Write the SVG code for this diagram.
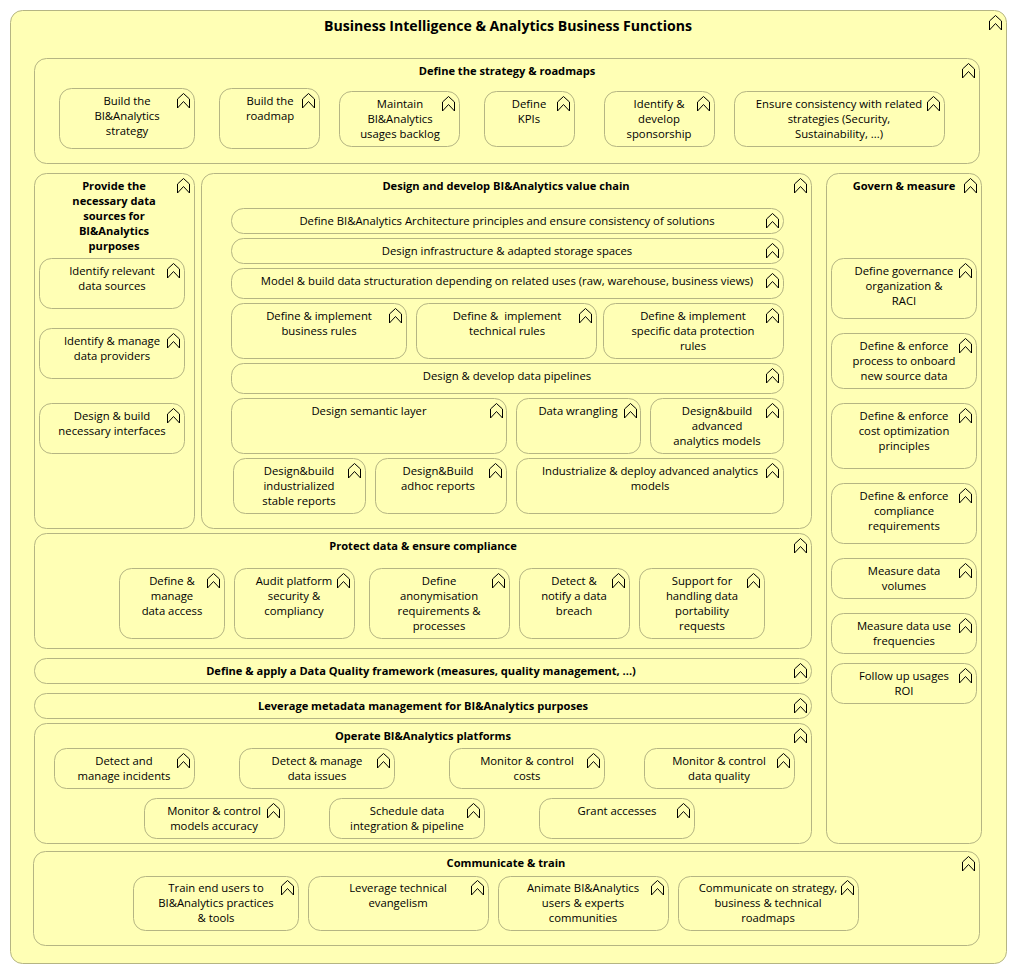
<svg xmlns="http://www.w3.org/2000/svg" width="1017" height="974" viewBox="0 0 1017 974">
<style>
rect{fill:#ffffb5;stroke:#b5b583;stroke-width:1}
text{font-family:"Open Sans","Liberation Sans",sans-serif;font-size:11.3px;fill:#000;text-anchor:middle}
.b text{font-weight:700;font-size:11.1px}
.ic{fill:none;stroke:#000;stroke-width:1}
</style>
<defs><g id="i"><path class="ic" d="M0.5 6L6.5 0.5L12.5 6V15L6.5 8.5L0.5 15Z"/></g></defs>
<rect width="1017" height="974" style="fill:#fff;stroke:none"/>
<g id="root" class="b"><rect x="10.5" y="10.5" width="996" height="953" rx="12"/><text x="508" y="31" style="font-size:14.1px">Business Intelligence &amp; Analytics Business Functions</text><use href="#i" x="989" y="15"/></g>
<g id="strategy" class="b"><rect x="34.5" y="58.5" width="945" height="105" rx="12"/><text x="507" y="75">Define the strategy &amp; roadmaps</text><use href="#i" x="962" y="63"/></g>
<g id="n1"><rect x="59.5" y="88.5" width="135" height="60" rx="12"/><text x="127" y="105">Build the</text><text x="127" y="120">BI&amp;Analytics</text><text x="127" y="135">strategy</text><use href="#i" x="177" y="93"/></g>
<g id="n2"><rect x="219.5" y="88.5" width="100" height="60" rx="12"/><text x="270" y="105">Build the</text><text x="270" y="120">roadmap</text><use href="#i" x="302" y="93"/></g>
<g id="n3"><rect x="339.5" y="91.5" width="120" height="55" rx="12"/><text x="400" y="108">Maintain</text><text x="400" y="123">BI&amp;Analytics</text><text x="400" y="138">usages backlog</text><use href="#i" x="442" y="96"/></g>
<g id="n4"><rect x="484.5" y="91.5" width="90" height="55" rx="12"/><text x="529" y="108">Define</text><text x="529" y="123">KPIs</text><use href="#i" x="557" y="96"/></g>
<g id="n5"><rect x="604.5" y="91.5" width="110" height="55" rx="12"/><text x="659" y="108">Identify &amp;</text><text x="659" y="123">develop</text><text x="659" y="138">sponsorship</text><use href="#i" x="697" y="96"/></g>
<g id="n6"><rect x="734.5" y="91.5" width="210" height="55" rx="12"/><text x="839" y="108">Ensure consistency with related</text><text x="839" y="123">strategies (Security,</text><text x="839" y="138">Sustainability, ...)</text><use href="#i" x="927" y="96"/></g>
<g id="provide" class="b"><rect x="34.5" y="173.5" width="160" height="355" rx="12"/><text x="114" y="190">Provide the</text><text x="114" y="205">necessary data</text><text x="114" y="220">sources for</text><text x="114" y="235">BI&amp;Analytics</text><text x="114" y="250">purposes</text><use href="#i" x="177" y="178"/></g>
<g id="n7"><rect x="39.5" y="258.5" width="145" height="50" rx="12"/><text x="112" y="275">Identify relevant</text><text x="112" y="290">data sources</text><use href="#i" x="167" y="263"/></g>
<g id="n8"><rect x="39.5" y="328.5" width="145" height="50" rx="12"/><text x="112" y="345">Identify &amp; manage</text><text x="112" y="360">data providers</text><use href="#i" x="167" y="333"/></g>
<g id="n9"><rect x="39.5" y="403.5" width="145" height="50" rx="12"/><text x="112" y="420">Design &amp; build</text><text x="112" y="435">necessary interfaces</text><use href="#i" x="167" y="408"/></g>
<g id="chain" class="b"><rect x="201.5" y="173.5" width="610" height="355" rx="12"/><text x="506" y="190">Design and develop BI&amp;Analytics value chain</text><use href="#i" x="794" y="178"/></g>
<g id="n10"><rect x="231.5" y="208.5" width="552" height="25" rx="12"/><text x="507" y="225">Define BI&amp;Analytics Architecture principles and ensure consistency of solutions</text><use href="#i" x="766" y="213"/></g>
<g id="n11"><rect x="231.5" y="238.5" width="552" height="25" rx="12"/><text x="507" y="255">Design infrastructure &amp; adapted storage spaces</text><use href="#i" x="766" y="243"/></g>
<g id="n12"><rect x="231.5" y="268.5" width="552" height="30" rx="12"/><text x="507" y="285">Model &amp; build data structuration depending on related uses (raw, warehouse, business views)</text><use href="#i" x="766" y="273"/></g>
<g id="n13"><rect x="231.5" y="303.5" width="175" height="55" rx="12"/><text x="319" y="320">Define &amp; implement</text><text x="319" y="335">business rules</text><use href="#i" x="389" y="308"/></g>
<g id="n14"><rect x="416.5" y="303.5" width="180" height="55" rx="12"/><text x="507" y="320" xml:space="preserve">Define &amp;  implement</text><text x="507" y="335">technical rules</text><use href="#i" x="579" y="308"/></g>
<g id="n15"><rect x="603.5" y="303.5" width="180" height="55" rx="12"/><text x="693" y="320">Define &amp; implement</text><text x="693" y="335">specific data protection</text><text x="693" y="350">rules</text><use href="#i" x="766" y="308"/></g>
<g id="n16"><rect x="231.5" y="363.5" width="552" height="30" rx="12"/><text x="507" y="380">Design &amp; develop data pipelines</text><use href="#i" x="766" y="368"/></g>
<g id="n17"><rect x="231.5" y="398.5" width="275" height="55" rx="12"/><text x="369" y="415">Design semantic layer</text><use href="#i" x="490" y="403"/></g>
<g id="n18"><rect x="516.5" y="398.5" width="124" height="55" rx="12"/><text x="578" y="415">Data wrangling</text><use href="#i" x="624" y="403"/></g>
<g id="n19"><rect x="650.5" y="398.5" width="133" height="55" rx="12"/><text x="717" y="415">Design&amp;build</text><text x="717" y="430">advanced</text><text x="717" y="445">analytics models</text><use href="#i" x="766" y="403"/></g>
<g id="n20"><rect x="233.5" y="458.5" width="132" height="55" rx="12"/><text x="299" y="475">Design&amp;build</text><text x="299" y="490">industrialized</text><text x="299" y="505">stable reports</text><use href="#i" x="348" y="463"/></g>
<g id="n21"><rect x="375.5" y="458.5" width="131" height="55" rx="12"/><text x="438" y="475">Design&amp;Build</text><text x="438" y="490">adhoc reports</text><use href="#i" x="489" y="463"/></g>
<g id="n22"><rect x="516.5" y="458.5" width="267" height="55" rx="12"/><text x="650" y="475">Industrialize &amp; deploy advanced analytics</text><text x="650" y="490">models</text><use href="#i" x="766" y="463"/></g>
<g id="govern" class="b"><rect x="826.5" y="173.5" width="155" height="670" rx="12"/><text x="904" y="190">Govern &amp; measure</text><use href="#i" x="964" y="178"/></g>
<g id="n23"><rect x="831.5" y="258.5" width="145" height="60" rx="12"/><text x="904" y="275">Define governance</text><text x="904" y="290">organization &amp;</text><text x="904" y="305">RACI</text><use href="#i" x="959" y="263"/></g>
<g id="n24"><rect x="831.5" y="333.5" width="145" height="55" rx="12"/><text x="904" y="350">Define &amp; enforce</text><text x="904" y="365">process to onboard</text><text x="904" y="380">new source data</text><use href="#i" x="959" y="338"/></g>
<g id="n25"><rect x="831.5" y="403.5" width="145" height="65" rx="12"/><text x="904" y="420">Define &amp; enforce</text><text x="904" y="435">cost optimization</text><text x="904" y="450">principles</text><use href="#i" x="959" y="408"/></g>
<g id="n26"><rect x="831.5" y="483.5" width="145" height="60" rx="12"/><text x="904" y="500">Define &amp; enforce</text><text x="904" y="515">compliance</text><text x="904" y="530">requirements</text><use href="#i" x="959" y="488"/></g>
<g id="n27"><rect x="831.5" y="558.5" width="145" height="40" rx="12"/><text x="904" y="575">Measure data</text><text x="904" y="590">volumes</text><use href="#i" x="959" y="563"/></g>
<g id="n28"><rect x="831.5" y="613.5" width="145" height="40" rx="12"/><text x="904" y="630">Measure data use</text><text x="904" y="645">frequencies</text><use href="#i" x="959" y="618"/></g>
<g id="n29"><rect x="831.5" y="663.5" width="145" height="40" rx="12"/><text x="904" y="680">Follow up usages</text><text x="904" y="695">ROI</text><use href="#i" x="959" y="668"/></g>
<g id="protect" class="b"><rect x="34.5" y="533.5" width="777" height="115" rx="12"/><text x="423" y="550">Protect data &amp; ensure compliance</text><use href="#i" x="794" y="538"/></g>
<g id="n30"><rect x="119.5" y="568.5" width="105" height="70" rx="12"/><text x="172" y="585">Define &amp;</text><text x="172" y="600">manage</text><text x="172" y="615">data access</text><use href="#i" x="207" y="573"/></g>
<g id="n31"><rect x="234.5" y="568.5" width="120" height="70" rx="12"/><text x="294" y="585">Audit platform</text><text x="294" y="600">security &amp;</text><text x="294" y="615">compliancy</text><use href="#i" x="337" y="573"/></g>
<g id="n32"><rect x="369.5" y="568.5" width="140" height="70" rx="12"/><text x="439" y="585">Define</text><text x="439" y="600">anonymisation</text><text x="439" y="615">requirements &amp;</text><text x="439" y="630">processes</text><use href="#i" x="492" y="573"/></g>
<g id="n33"><rect x="519.5" y="568.5" width="110" height="70" rx="12"/><text x="574" y="585">Detect &amp;</text><text x="574" y="600">notify a data</text><text x="574" y="615">breach</text><use href="#i" x="612" y="573"/></g>
<g id="n34"><rect x="639.5" y="568.5" width="125" height="70" rx="12"/><text x="702" y="585">Support for</text><text x="702" y="600">handling data</text><text x="702" y="615">portability</text><text x="702" y="630">requests</text><use href="#i" x="747" y="573"/></g>
<g id="dq" class="b"><rect x="34.5" y="658.5" width="777" height="25" rx="12"/><text x="421" y="675">Define &amp; apply a Data Quality framework (measures, quality management, ...)</text><use href="#i" x="794" y="663"/></g>
<g id="meta" class="b"><rect x="34.5" y="693.5" width="777" height="25" rx="12"/><text x="423" y="710">Leverage metadata management for BI&amp;Analytics purposes</text><use href="#i" x="794" y="698"/></g>
<g id="operate" class="b"><rect x="34.5" y="723.5" width="777" height="120" rx="12"/><text x="423" y="740">Operate BI&amp;Analytics platforms</text><use href="#i" x="794" y="728"/></g>
<g id="n35"><rect x="54.5" y="748.5" width="140" height="40" rx="12"/><text x="124" y="765">Detect and</text><text x="124" y="780">manage incidents</text><use href="#i" x="177" y="753"/></g>
<g id="n36"><rect x="239.5" y="748.5" width="155" height="40" rx="12"/><text x="317" y="765">Detect &amp; manage</text><text x="317" y="780">data issues</text><use href="#i" x="377" y="753"/></g>
<g id="n37"><rect x="449.5" y="748.5" width="155" height="40" rx="12"/><text x="527" y="765">Monitor &amp; control</text><text x="527" y="780">costs</text><use href="#i" x="587" y="753"/></g>
<g id="n38"><rect x="644.5" y="748.5" width="150" height="40" rx="12"/><text x="719" y="765">Monitor &amp; control</text><text x="719" y="780">data quality</text><use href="#i" x="777" y="753"/></g>
<g id="n39"><rect x="144.5" y="798.5" width="140" height="40" rx="12"/><text x="214" y="815">Monitor &amp; control</text><text x="214" y="830">models accuracy</text><use href="#i" x="267" y="803"/></g>
<g id="n40"><rect x="329.5" y="798.5" width="155" height="40" rx="12"/><text x="407" y="815">Schedule data</text><text x="407" y="830">integration &amp; pipeline</text><use href="#i" x="467" y="803"/></g>
<g id="n41"><rect x="539.5" y="798.5" width="155" height="40" rx="12"/><text x="617" y="815">Grant accesses</text><use href="#i" x="677" y="803"/></g>
<g id="comm" class="b"><rect x="33.5" y="851.5" width="946" height="94" rx="12"/><text x="506" y="867">Communicate &amp; train</text><use href="#i" x="962" y="856"/></g>
<g id="n42"><rect x="133.5" y="876.5" width="165" height="54" rx="12"/><text x="216" y="892">Train end users to</text><text x="216" y="907">BI&amp;Analytics practices</text><text x="216" y="922">&amp; tools</text><use href="#i" x="281" y="880"/></g>
<g id="n43"><rect x="308.5" y="876.5" width="180" height="54" rx="12"/><text x="398" y="892">Leverage technical</text><text x="398" y="907">evangelism</text><use href="#i" x="471" y="880"/></g>
<g id="n44"><rect x="498.5" y="876.5" width="170" height="54" rx="12"/><text x="583" y="892">Animate BI&amp;Analytics</text><text x="583" y="907">users &amp; experts</text><text x="583" y="922">communities</text><use href="#i" x="651" y="880"/></g>
<g id="n45"><rect x="678.5" y="876.5" width="180" height="54" rx="12"/><text x="768" y="892">Communicate on strategy,</text><text x="768" y="907">business &amp; technical</text><text x="768" y="922">roadmaps</text><use href="#i" x="841" y="880"/></g>
</svg>
